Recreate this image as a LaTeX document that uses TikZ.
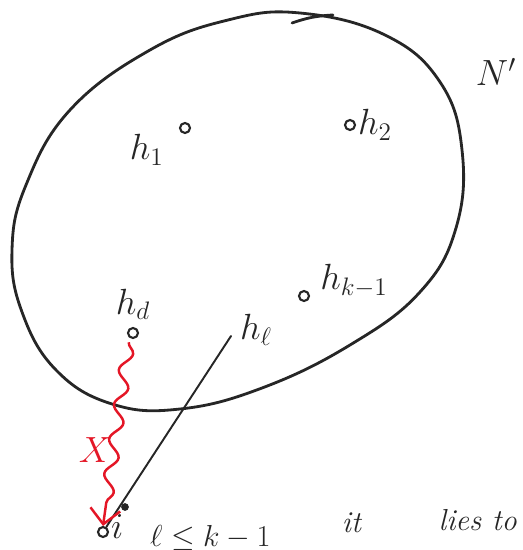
\documentclass[tikz,border=0pt]{standalone}
\usepackage{amsmath,amssymb}
\usepackage{tikz}
\usetikzlibrary{arrows.meta, decorations.pathmorphing, positioning}
\definecolor{inkred}{RGB}{228,22,38}
\tikzset{
  pen/.style    = {line width=1.6pt, black!85, line cap=round},
  link/.style   = {line width=1.1pt, black!85, line cap=round},
  hop/.style    = {-{Straight Barb[length=3mm]}, line width=1.4pt, inkred,
                   decorate, decoration={snake, amplitude=1.2mm, segment length=7mm,
                   post length=4mm}},
  pt/.style     = {draw, circle, line width=1.2pt, black!85, inner sep=0pt, minimum size=2mm},
  lbl/.style    = {font=\huge, black!85, inner sep=1pt},
  note/.style   = {font=\LARGE, black!85, inner sep=1pt},
}

\begin{document}
\begin{tikzpicture}[x=0.02cm, y=-0.02cm]
  \useasboundingbox (0,0) rectangle (523,550);
  \clip (0,0) rectangle (523,550);

  % the set N'
  \draw[pen] plot[smooth cycle, tension=0.7] coordinates {
    (300,13) (385,35) (440,82) (462,150) (456,228) (420,292) (350,345)
    (262,388) (180,409) (112,404) (56,370) (22,312) (12,250) (26,185)
    (70,110) (150,50) (228,20)};
  \draw[pen] (292,23) to[bend left=8] (333,15);
  \node[lbl] (nset) at (496,72) {$N'$};

  % hosts
  \node[pt] (h1) at (185,128) {};
  \node[lbl, below left=0mm and 3mm of h1] {$h_1$};
  \node[pt] (h2) at (350,125) {};
  \node[lbl, right=0mm of h2] {$h_2$};
  \node[pt] (hd) at (133,333) {};
  \node[lbl, above=1mm of hd] {$h_d$};
  \coordinate (hl) at (231,336);
  \node[lbl, anchor=west] at (238,330) {$h_\ell$};
  \node[pt] (hk) at (304,296) {};
  \node[lbl, above right=-1.5mm and 2mm of hk] {$h_{k-1}$};

  % the node i
  \node[pt] (i) at (103,532) {};
  \node[lbl, right=0mm of i, yshift=1mm] {$i$};
  \fill[black!85] (125,507) circle (2.2pt);

  % routes
  \draw[link] (hl) -- (i);
  \draw[hop] ([yshift=-1mm]hd.south west) -- (i.north);
  \node[lbl, text=inkred] at (95,450) {$X$};

  % note below
  \node[note, anchor=base west] at (148,546) {$\ell \le k-1$};
  \node[note, anchor=base] at (352,532) {\textit{it}};
  \node[note, anchor=base east] at (519,530) {\textit{lies to}};
\end{tikzpicture}
\end{document}
